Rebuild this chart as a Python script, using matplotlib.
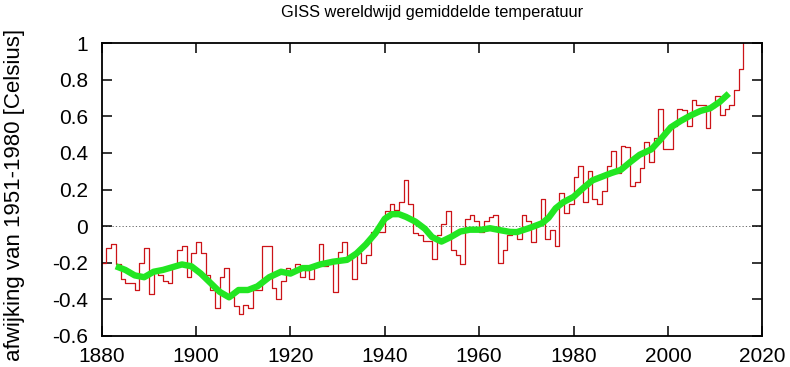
import matplotlib
matplotlib.use("Agg")
import matplotlib.pyplot as plt
import numpy as np

plt.rcParams['font.family'] = ['Liberation Sans', 'DejaVu Sans']

# Annual anomalies (red step line), 1880-2016
years = list(range(1880, 2017))
anomaly = [
    -0.20, -0.12, -0.10, -0.21, -0.29, -0.31, -0.31, -0.35, -0.20, -0.12,   # 1880-1889
    -0.37, -0.25, -0.27, -0.30, -0.31, -0.22, -0.13, -0.11, -0.28, -0.15,   # 1890-1899
    -0.09, -0.15, -0.27, -0.35, -0.45, -0.28, -0.23, -0.39, -0.44, -0.48,   # 1900-1909
    -0.43, -0.45, -0.35, -0.35, -0.11, -0.11, -0.34, -0.40, -0.30, -0.23,   # 1910-1919
    -0.24, -0.21, -0.28, -0.24, -0.29, -0.21, -0.10, -0.22, -0.21, -0.36,   # 1920-1929
    -0.14, -0.09, -0.17, -0.29, -0.15, -0.20, -0.16, -0.03, -0.03, -0.03,   # 1930-1939
     0.08,  0.12,  0.09,  0.13,  0.25,  0.12, -0.04, -0.05, -0.08, -0.08,   # 1940-1949
    -0.18, -0.05,  0.01,  0.08, -0.13, -0.16, -0.21,  0.04,  0.06,  0.03,   # 1950-1959
    -0.03,  0.03,  0.05,  0.06, -0.20, -0.13, -0.05, -0.03, -0.07,  0.06,   # 1960-1969
     0.03, -0.09,  0.01,  0.15, -0.07, -0.02, -0.11,  0.18,  0.07,  0.12,   # 1970-1979
     0.27,  0.33,  0.13,  0.30,  0.15,  0.12,  0.19,  0.33,  0.41,  0.29,   # 1980-1989
     0.44,  0.43,  0.22,  0.24,  0.32,  0.46,  0.35,  0.48,  0.64,  0.42,   # 1990-1999
     0.42,  0.55,  0.64,  0.635, 0.55,  0.69,  0.66,  0.66,  0.535, 0.65,   # 2000-2009
     0.71,  0.61,  0.64,  0.66,  0.745, 0.86,  1.00,                        # 2010-2016
]

# Smoothed curve (green)
smooth_years = [
    1883, 1885, 1887, 1889, 1891, 1893, 1895, 1897, 1899, 1901,
    1903, 1905, 1907, 1909, 1911, 1913, 1915.5, 1918, 1920, 1922.5,
    1924, 1926.3, 1929, 1932, 1934, 1936, 1938, 1940, 1941.5, 1943,
    1944.5, 1946.5, 1948.5, 1950, 1952, 1954, 1956, 1958, 1960.5, 1962.3,
    1964.3, 1966.5, 1968, 1970.5, 1973.3, 1974.7, 1976.2, 1977.8, 1980, 1982,
    1984, 1986, 1988, 1990, 1992, 1994, 1996.5, 1998.3, 2000.6, 2002.7,
    2004.8, 2006.9, 2009, 2011, 2012.9,
]
smooth_values = [
    -0.22, -0.24, -0.27, -0.28, -0.25, -0.24, -0.225, -0.21, -0.22, -0.26,
    -0.31, -0.36, -0.39, -0.35, -0.35, -0.33, -0.28, -0.25, -0.26, -0.23,
    -0.23, -0.21, -0.195, -0.185, -0.15, -0.10, -0.04, 0.04, 0.065, 0.065,
    0.05, 0.024, -0.015, -0.06, -0.085, -0.06, -0.03, -0.02, -0.02, -0.012,
    -0.022, -0.032, -0.033, -0.012, 0.015, 0.045, 0.097, 0.13, 0.16, 0.207,
    0.25, 0.27, 0.29, 0.307, 0.35, 0.39, 0.42, 0.47, 0.54, 0.575,
    0.605, 0.63, 0.645, 0.68, 0.725,
]

x_ticks = [1880, 1900, 1920, 1940, 1960, 1980, 2000, 2020]
y_ticks = [-0.6, -0.4, -0.2, 0, 0.2, 0.4, 0.6, 0.8, 1]
y_tick_labels = ['-0.6', '-0.4', '-0.2', '0', '0.2', '0.4', '0.6', '0.8', '1']

title = 'GISS wereldwijd gemiddelde temperatuur'
ylabel = 'afwijking van 1951-1980 [Celsius]'

W, H = 790, 367
fig = plt.figure(figsize=(W / 100, H / 100), dpi=100)
ax = fig.add_axes([101.7 / W, 1 - 335.7 / H, (762.3 - 101.7) / W, (335.7 - 43.3) / H])

ax.axhline(0, color='#555555', linestyle=(0, (1.5, 2.5)), linewidth=0.6, zorder=1)
ax.step(years, anomaly, where='post', color='#cc1418', linewidth=0.9, zorder=2)
ax.plot(smooth_years, smooth_values, color='#22e622', linewidth=4.6,
        solid_capstyle='butt', solid_joinstyle='round', zorder=3)

ax.set_xlim(1880, 2020)
ax.set_ylim(-0.6, 1.0)
ax.set_xticks(x_ticks)
ax.set_yticks(y_ticks)
ax.set_yticklabels(y_tick_labels)

ax.tick_params(direction='in', length=7.5, width=1.1, top=True, right=True,
               labelsize=15, colors='black')
ax.tick_params(axis='y', pad=10)
ax.tick_params(axis='x', pad=8)
for s in ax.spines.values():
    s.set_linewidth(1.3)

fig.text(432 / W, 1 - 12 / H, title, fontsize=11.8, ha='center', va='center')
fig.text(15 / W, 1 - 195 / H, ylabel, fontsize=16, rotation=90,
         ha='center', va='center')

fig.savefig('out.png', dpi=100)
